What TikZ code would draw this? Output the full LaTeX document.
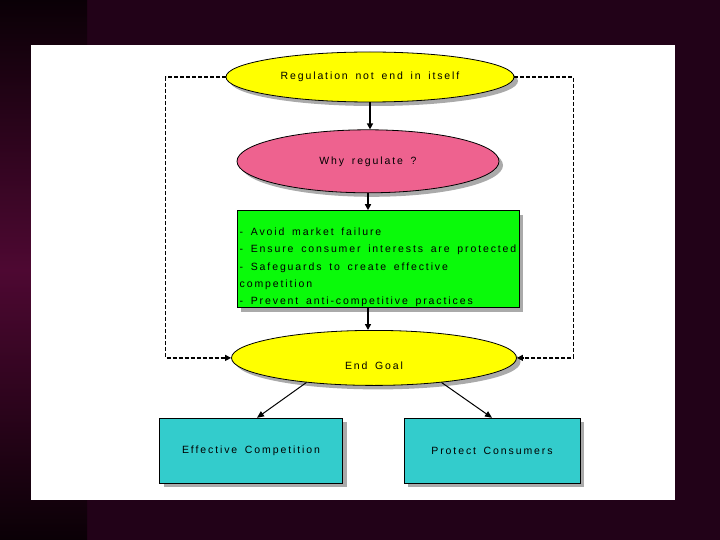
\documentclass[tikz,border=0pt]{standalone}
\usepackage{fontspec}
\usepackage{tikz}
\usetikzlibrary{shapes.geometric, arrows.meta, positioning, shadows}
\newfontfamily\diafont{Liberation Sans}[LetterSpace=18, WordSpace=1.6]
\definecolor{slidebg}{RGB}{34,2,24}
\definecolor{stripdark}{RGB}{10,0,6}
\definecolor{stripmid}{RGB}{78,8,50}
\definecolor{goalyellow}{RGB}{255,255,0}
\definecolor{whypink}{RGB}{238,98,143}
\definecolor{listgreen}{RGB}{10,250,10}
\definecolor{boxcyan}{RGB}{51,204,204}
\definecolor{shadowgrey}{RGB}{170,170,170}
\tikzset{
  boxshadow/.style={drop shadow={shadow xshift=4pt, shadow yshift=-4pt,
    fill=shadowgrey, opacity=1}},
  goal/.style={ellipse, draw=black, fill=goalyellow, inner sep=0pt,
    font=\diafont\fontsize{10.5}{13}\selectfont, line width=0.8pt, boxshadow},
  whyoval/.style={ellipse, draw=black, fill=whypink, inner sep=0pt,
    font=\diafont\fontsize{10.5}{13}\selectfont, line width=0.8pt, boxshadow},
  reasonbox/.style={rectangle, draw=black, fill=listgreen, inner sep=1pt,
    minimum width=282pt, align=left, minimum height=97pt,
    font=\diafont\fontsize{10.5}{17.2}\selectfont, line width=0.8pt, boxshadow},
  aimbox/.style={rectangle, draw=black, fill=boxcyan, align=center,
    minimum height=65pt, font=\diafont\fontsize{10.5}{13}\selectfont,
    line width=0.8pt, boxshadow},
  flowarrow/.style={-{Triangle[length=6pt, width=6pt]}, line width=1.8pt, color=black},
  splitarrow/.style={-{Triangle[length=7pt, width=6pt]}, line width=1pt, color=black},
  looparrow/.style={-{Triangle[length=6pt, width=6pt]}, line width=1.2pt,
    dash pattern=on 4pt off 2pt, color=black}
}
\begin{document}
\begin{tikzpicture}[x=1pt, y=-1pt]
  % slide background
  \fill[slidebg] (0,0) rectangle (720,540);
  \shade[top color=stripdark, bottom color=stripdark, middle color=stripmid] (0,0) rectangle (87,540);
  \fill[white] (31,45) rectangle (675,500);

  \node[goal, minimum width=288pt, minimum height=50pt] (regul) at (370,77) {Regulation not end in itself};
  \node[whyoval, minimum width=262pt, minimum height=63pt, below=27pt of regul, xshift=-2pt] (why) {Why regulate ?};
  \node[reasonbox, below=17pt of why, xshift=10pt] (reasons)
    {\rule{0pt}{24pt}- Avoid market failure\\
     - Ensure consumer interests are protected\\
     - Safeguards to create effective\\
     competition\\
     - Prevent anti-competitive practices};
  \node[goal, minimum width=285pt, minimum height=55pt, text height=23pt, text depth=0pt,
    below=22pt of reasons, xshift=-4pt] (endgoal) {End Goal};
  \node[aimbox, minimum width=183pt, below=32pt of endgoal, xshift=-123pt] (ecomp) {Effective Competition};
  \node[aimbox, minimum width=176pt, below=32pt of endgoal, xshift=118pt] (pcons) {Protect Consumers};

  \draw[flowarrow] (regul.south) -- (regul.south |- why.north);
  \draw[flowarrow] (why.south) -- (why.south |- reasons.north);
  \draw[flowarrow] (reasons.south -| why.south) -- (endgoal.north -| why.south);
  \draw[looparrow] (regul.west) -- ++(-60,0) |- (endgoal.west);
  \draw[looparrow] (regul.east) -- ++(59,0) |- (endgoal.east);
  \draw[splitarrow] (endgoal.200) -- ([xshift=6pt]ecomp.north);
  \draw[splitarrow] (endgoal.340) -- (pcons.north);
\end{tikzpicture}
\end{document}
